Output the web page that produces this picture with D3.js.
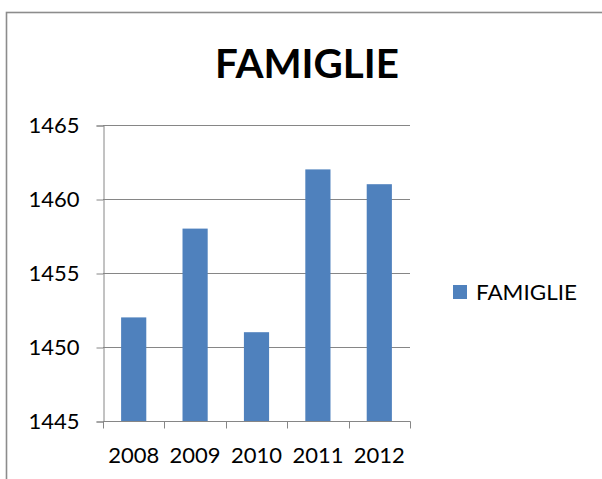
<!DOCTYPE html>
<html>
<head>
<meta charset="utf-8">
<script src="https://cdn.jsdelivr.net/npm/d3@7"></script>
<style>
  html, body { margin: 0; padding: 0; background: #fff; }
  svg { display: block; }
</style>
</head>
<body>
<svg id="chart" width="602" height="479"></svg>
<script>
// Household counts per year
const years = ["2008", "2009", "2010", "2011", "2012"];
const famiglie = [1452, 1458, 1451, 1462, 1461];
const yTicks = [1445, 1450, 1455, 1460, 1465];
const seriesName = "FAMIGLIE";
const titleText = "FAMIGLIE";

const W = 602, H = 479;
const svg = d3.select("#chart");
const font = "Lato, 'Open Sans', 'Liberation Sans', sans-serif";
const barColor = "#4F81BD";
const gridColor = "#868686";

// Outer frame of the chart object
svg.append("rect")
  .attr("x", 6.5).attr("y", 12.5)
  .attr("width", 700).attr("height", 600)
  .attr("fill", "none")
  .attr("stroke", "#8c8c8c")
  .attr("stroke-width", 1.6);

const plot = { left: 103, right: 410, top: 125, bottom: 421 };

const x = d3.scaleBand()
  .domain(years)
  .range([plot.left, plot.right])
  .paddingInner(0.59)
  .paddingOuter(0.295);

const xCat = d3.scaleBand().domain(years).range([plot.left, plot.right]);

const y = d3.scaleLinear()
  .domain([1445, 1465])
  .range([plot.bottom, plot.top]);

// Horizontal gridlines
svg.append("g")
  .selectAll("line")
  .data(yTicks.slice(1))
  .join("line")
  .attr("x1", plot.left).attr("x2", plot.right)
  .attr("y1", d => Math.round(y(d)) + 0.5)
  .attr("y2", d => Math.round(y(d)) + 0.5)
  .attr("stroke", gridColor)
  .attr("stroke-width", 1);

// Bars
svg.append("g")
  .selectAll("rect")
  .data(years.map((yr, i) => ({ yr, v: famiglie[i] })))
  .join("rect")
  .attr("x", d => x(d.yr))
  .attr("width", x.bandwidth())
  .attr("y", d => y(d.v))
  .attr("height", d => y(1445) - y(d.v))
  .attr("fill", barColor);

// Y axis
const yAxis = d3.axisLeft(y)
  .tickValues(yTicks)
  .tickSize(7)
  .tickPadding(17)
  .tickFormat(d3.format("d"));

const gy = svg.append("g")
  .attr("transform", `translate(${plot.left + 0.5},0.5)`)
  .call(yAxis);
gy.select(".domain").attr("stroke", gridColor);
gy.selectAll(".tick line").attr("stroke", gridColor);
gy.selectAll(".tick text")
  .attr("font-family", font)
  .attr("font-size", 22)
  .attr("fill", "#000");

// X axis: tick marks at category boundaries
const gx = svg.append("g").attr("transform", `translate(0,${plot.bottom + 0.5})`);
gx.append("line")
  .attr("x1", plot.left).attr("x2", plot.right + 0.5)
  .attr("stroke", gridColor);
const bounds = years.map(yr => xCat(yr)).concat([plot.right]);
gx.selectAll("line.tk")
  .data(bounds)
  .join("line")
  .attr("class", "tk")
  .attr("x1", d => Math.round(d) + 0.5).attr("x2", d => Math.round(d) + 0.5)
  .attr("y1", 0).attr("y2", 7)
  .attr("stroke", gridColor);
gx.selectAll("text")
  .data(years)
  .join("text")
  .attr("x", d => xCat(d) + xCat.bandwidth() / 2)
  .attr("y", 41.5)
  .attr("text-anchor", "middle")
  .attr("font-family", font)
  .attr("font-size", 22)
  .attr("fill", "#000")
  .text(d => d);

// Title
svg.append("text")
  .attr("x", 307).attr("y", 78)
  .attr("text-anchor", "middle")
  .attr("font-family", font)
  .attr("font-weight", "bold")
  .attr("font-size", 41)
  .attr("textLength", 184)
  .attr("lengthAdjust", "spacingAndGlyphs")
  .attr("fill", "#000")
  .text(titleText);

// Legend
const lg = svg.append("g").attr("transform", "translate(453,285)");
lg.append("rect").attr("width", 14).attr("height", 14).attr("fill", barColor);
lg.append("text")
  .attr("x", 23).attr("y", 14.5)
  .attr("font-family", font)
  .attr("font-size", 20.5)
  .attr("textLength", 101)
  .attr("lengthAdjust", "spacingAndGlyphs")
  .attr("fill", "#000")
  .text(seriesName);
</script>
</body>
</html>
